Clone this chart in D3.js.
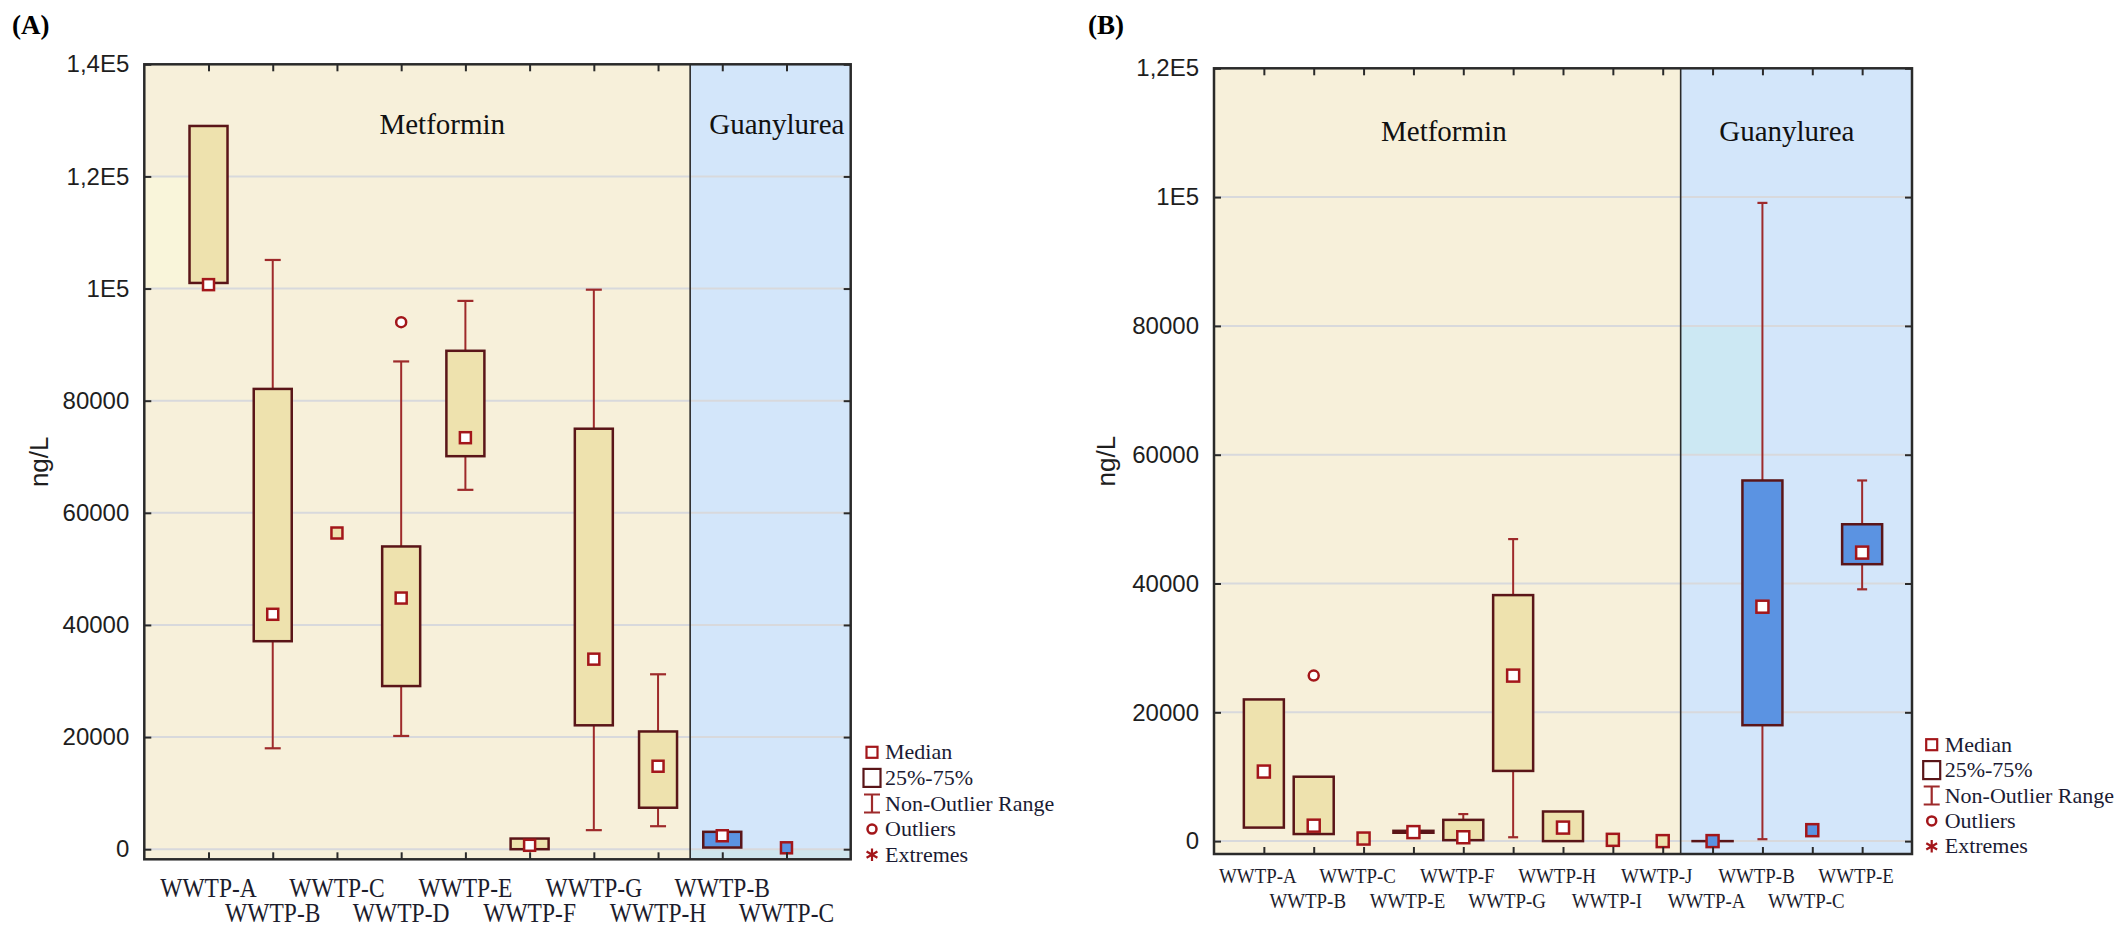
<!DOCTYPE html>
<html>
<head>
<meta charset="utf-8">
<script src="https://cdn.jsdelivr.net/npm/d3@7"></script>
<style>
  body { margin: 0; background: #ffffff; }
  svg { display: block; }
</style>
</head>
<body>
<svg id="chart" width="2120" height="927"></svg>
<script>
// ---------------- Data ----------------
const compounds = ["Metformin", "Guanylurea"];

// Panel (A): 8 plants for metformin, 2 for guanylurea (ng/L)
const sitesA   = ["WWTP-A","WWTP-B","WWTP-C","WWTP-D","WWTP-E","WWTP-F","WWTP-G","WWTP-H","WWTP-B","WWTP-C"];
const compoundA = [0,0,0,0,0,0,0,0,1,1];
const lowA  = [null, 18000, null, 20200, 64100, null, 3400, 4100, null, null];
const q1A   = [101000, 37100, null, 29100, 70100, 0, 22100, 7400, 300, null];
const medA  = [100700, 41900, 56400, 44800, 73400, 700, 33900, 14800, 2400, 250];
const q3A   = [129000, 82100, null, 54000, 88900, 1900, 75000, 21000, 3100, null];
const highA = [null, 105100, null, 87000, 97800, null, 99800, 31200, null, null];
const outA  = [[], [], [], [94000], [], [], [], [], [], []];
const tickValsA  = [0, 20000, 40000, 60000, 80000, 100000, 120000, 140000];
const tickTextA  = ["0", "20000", "40000", "60000", "80000", "1E5", "1,2E5", "1,4E5"];

// Panel (B): 9 plants for metformin, 4 for guanylurea (ng/L)
const sitesB   = ["WWTP-A","WWTP-B","WWTP-C","WWTP-E","WWTP-F","WWTP-G","WWTP-H","WWTP-I","WWTP-J","WWTP-A","WWTP-B","WWTP-C","WWTP-E"];
const compoundB = [0,0,0,0,0,0,0,0,0,1,1,1,1];
const lowB  = [null, null, null, null, 0, 600, null, null, null, null, 300, null, 39100];
const q1B   = [2100, 1100, null, 1300, 150, 10900, 0, null, null, 0, 18000, null, 43000];
const medB  = [10800, 2400, 400, 1400, 600, 25700, 2100, 200, 0, 0, 36400, 1700, 44800];
const q3B   = [22000, 10000, null, 1600, 3300, 38200, 4600, null, null, 0, 56000, null, 49200];
const highB = [null, null, null, null, 4200, 46900, null, null, null, null, 99100, null, 56000];
const outB  = [[], [25700], [], [], [], [], [], [], [], [], [], [], []];
const tickValsB  = [0, 20000, 40000, 60000, 80000, 100000, 120000];
const tickTextB  = ["0", "20000", "40000", "60000", "80000", "1E5", "1,2E5"];

const legendItems = ["Median", "25%-75%", "Non-Outlier Range", "Outliers", "Extremes"];

// ---------------- Styles ----------------
const BG_MET = "#F7F0DA", BG_GUA = "#D3E6FA";
const BOX_FILL = ["#EEE2AE", "#5B93E2"];
const BOX_STROKE = "#5A1518";
const WHISKER = "#9E2A2B";
const MARK = "#A3161A";
const FRAME = "#2a2a2a";
const GRID = "#D8D9DC";
const SANS = "'Liberation Sans', Arial, sans-serif";
const SERIF = "'Liberation Serif', 'Times New Roman', serif";

const svg = d3.select("#chart");

function drawPanel(p) {
  const n = p.sites.length;
  const x = d3.scaleLinear().domain([0, n + 1]).range([p.left, p.right]);
  const y = d3.scaleLinear().domain([p.yMin, p.yMax]).range([p.bottom, p.top]);
  const nMet = p.compound.filter(c => c === 0).length;
  const splitX = x(nMet + p.splitFrac);
  const g = svg.append("g");

  // section backgrounds
  g.append("rect").attr("x", p.left).attr("y", p.top)
    .attr("width", splitX - p.left).attr("height", p.bottom - p.top).attr("fill", BG_MET);
  g.append("rect").attr("x", splitX).attr("y", p.top)
    .attr("width", p.right - splitX).attr("height", p.bottom - p.top).attr("fill", BG_GUA);

  // faint shading bands of the fill
  (p.shades || []).forEach(s => {
    const x0 = s.x0 === "split" ? splitX : x(s.x0);
    const x1 = s.x1 === "split" ? splitX : (s.x1 === "right" ? p.right : x(s.x1));
    const y0 = s.y0 === "bottom" ? p.bottom : y(s.y0);
    const y1 = y(s.y1);
    g.append("rect").attr("x", x0).attr("y", y1)
      .attr("width", x1 - x0).attr("height", y0 - y1).attr("fill", s.color);
  });

  // horizontal grid
  g.append("g").selectAll("line").data(p.tickVals.filter(v => v < p.yMax)).join("line")
    .attr("x1", p.left).attr("x2", p.right)
    .attr("y1", d => y(d)).attr("y2", d => y(d))
    .attr("stroke", GRID).attr("stroke-width", 2);

  // section divider
  g.append("line").attr("x1", splitX).attr("x2", splitX)
    .attr("y1", p.top).attr("y2", p.bottom)
    .attr("stroke", FRAME).attr("stroke-width", 1.6);

  // section titles
  compounds.forEach((c, i) => {
    g.append("text").attr("x", x(p.titlePos[i])).attr("y", p.titleY)
      .attr("text-anchor", "middle").attr("font-family", SERIF)
      .attr("font-size", 29).attr("fill", "#111").text(c);
  });

  // boxes
  const items = p.sites.map((s, i) => ({
    i, c: p.compound[i], low: p.low[i], q1: p.q1[i], med: p.med[i],
    q3: p.q3[i], high: p.high[i], out: p.out[i]
  }));
  const bg = g.append("g");
  items.forEach(d => {
    const cx = x(d.i + 1);
    const hw = p.boxW / 2;
    // whiskers
    const whisk = (from, to) => {
      bg.append("line").attr("x1", cx).attr("x2", cx)
        .attr("y1", y(from)).attr("y2", y(to))
        .attr("stroke", WHISKER).attr("stroke-width", 2);
      bg.append("line").attr("x1", cx - p.capW / 2).attr("x2", cx + p.capW / 2)
        .attr("y1", y(to)).attr("y2", y(to))
        .attr("stroke", WHISKER).attr("stroke-width", 2.2);
    };
    if (d.high !== null) whisk(d.q3, d.high);
    if (d.low !== null) whisk(d.q1, d.low);
    // box
    if (d.q1 !== null && d.q3 !== null) {
      bg.append("rect").attr("x", cx - hw).attr("y", y(d.q3))
        .attr("width", p.boxW).attr("height", Math.max(y(d.q1) - y(d.q3), 0.01))
        .attr("fill", BOX_FILL[d.c]).attr("stroke", BOX_STROKE).attr("stroke-width", 2.5);
    }
    // outliers
    d.out.forEach(v => {
      bg.append("circle").attr("cx", cx).attr("cy", y(v)).attr("r", 5)
        .attr("fill", "#ffffff").attr("stroke", MARK).attr("stroke-width", 2.5);
    });
    // median marker
    const hasBox = d.q1 !== null && d.q3 !== null && d.q3 > d.q1;
    bg.append("rect").attr("x", cx - p.medSize / 2).attr("y", y(d.med) - p.medSize / 2)
      .attr("width", p.medSize).attr("height", p.medSize)
      .attr("fill", hasBox ? "#ffffff" : BOX_FILL[d.c])
      .attr("stroke", MARK).attr("stroke-width", 2.5);
  });

  // frame
  g.append("rect").attr("x", p.left).attr("y", p.top)
    .attr("width", p.right - p.left).attr("height", p.bottom - p.top)
    .attr("fill", "none").attr("stroke", FRAME).attr("stroke-width", 2.5);

  // y axis (ticks inside, labels outside)
  const yAxis = g.append("g").attr("transform", `translate(${p.left},0)`)
    .call(d3.axisLeft(y).tickValues(p.tickVals)
      .tickFormat((d, i) => p.tickText[i]).tickSize(-7).tickPadding(15));
  yAxis.select(".domain").remove();
  yAxis.selectAll("line").attr("stroke", FRAME).attr("stroke-width", 2);
  yAxis.selectAll("text").attr("font-family", SANS).attr("font-size", 24).attr("fill", "#1e1e1e");

  const yAxisR = g.append("g").attr("transform", `translate(${p.right},0)`)
    .call(d3.axisRight(y).tickValues(p.tickVals).tickFormat("").tickSize(-7));
  yAxisR.select(".domain").remove();
  yAxisR.selectAll("line").attr("stroke", FRAME).attr("stroke-width", 2);

  // x axes (ticks inside)
  const cats = d3.range(1, n + 1);
  const xAxis = g.append("g").attr("transform", `translate(0,${p.bottom})`)
    .call(d3.axisBottom(x).tickValues(cats).tickFormat("").tickSize(-7));
  xAxis.select(".domain").remove();
  xAxis.selectAll("line").attr("stroke", FRAME).attr("stroke-width", 2);
  const xAxisT = g.append("g").attr("transform", `translate(0,${p.top})`)
    .call(d3.axisTop(x).tickValues(cats).tickFormat("").tickSize(-7));
  xAxisT.select(".domain").remove();
  xAxisT.selectAll("line").attr("stroke", FRAME).attr("stroke-width", 2);

  // category labels in two staggered rows
  g.append("g").selectAll("text").data(p.sites).join("text")
    .attr("transform", (d, i) =>
      `translate(${x(i + 1) + p.catShift},${i % 2 === 0 ? p.catRow1 : p.catRow2}) scale(${p.catScale},1)`)
    .attr("text-anchor", "middle").attr("font-family", SERIF)
    .attr("font-size", p.catFont).attr("fill", "#1c1c2c").text(d => d);

  // y axis title
  g.append("text")
    .attr("transform", `translate(${p.ylabelX},${(p.top + p.bottom) / 2}) rotate(-90)`)
    .attr("text-anchor", "middle").attr("dy", "0.35em")
    .attr("font-family", SANS).attr("font-size", 26).attr("fill", "#1e1e1e").text("ng/L");

  // panel letter
  g.append("text").attr("x", p.letterX).attr("y", p.letterY)
    .attr("font-family", SERIF).attr("font-weight", "bold").attr("font-size", 27)
    .attr("fill", "#000").text(p.letter);

  // legend
  const lg = g.append("g");
  legendItems.forEach((t, i) => {
    const by = p.legendY + i * p.legendStep;
    const cy = by - 7;
    const mx = p.legendX;
    if (i === 0) {
      lg.append("rect").attr("x", mx - 5.5).attr("y", cy - 5.5).attr("width", 11).attr("height", 11)
        .attr("fill", "#fff").attr("stroke", MARK).attr("stroke-width", 2.2);
    } else if (i === 1) {
      lg.append("rect").attr("x", mx - 8.5).attr("y", cy - 9).attr("width", 17).attr("height", 18)
        .attr("fill", "#fff").attr("stroke", BOX_STROKE).attr("stroke-width", 2.2);
    } else if (i === 2) {
      lg.append("path").attr("d", `M${mx - 8},${cy - 9}H${mx + 8}M${mx},${cy - 9}V${cy + 9}M${mx - 8},${cy + 9}H${mx + 8}`)
        .attr("fill", "none").attr("stroke", WHISKER).attr("stroke-width", 2.2);
    } else if (i === 3) {
      lg.append("circle").attr("cx", mx).attr("cy", cy).attr("r", 4.5)
        .attr("fill", "#fff").attr("stroke", MARK).attr("stroke-width", 2.5);
    } else {
      lg.append("path").attr("transform", `translate(${mx},${cy})`)
        .attr("d", d3.symbol(d3.symbolAsterisk, 110)())
        .attr("fill", "none").attr("stroke", MARK).attr("stroke-width", 2.2);
    }
    lg.append("text").attr("x", mx + 13).attr("y", by)
      .attr("font-family", SERIF).attr("font-size", 22).attr("fill", "#1b1b33").text(t);
  });
}

drawPanel({
  sites: sitesA, compound: compoundA, low: lowA, q1: q1A, med: medA, q3: q3A, high: highA, out: outA,
  tickVals: tickValsA, tickText: tickTextA,
  left: 144.3, right: 850.7, top: 64.3, bottom: 859.3, yMin: -1800, yMax: 140000,
  splitFrac: 0.5, boxW: 38, capW: 16, medSize: 11,
  catFont: 28, catScale: 0.84, catRow1: 896.7, catRow2: 921.7, catShift: 0,
  titlePos: [4.64, 9.85], titleY: 134,
  legendX: 872, legendY: 759.3, legendStep: 25.6,
  ylabelX: 39, letter: "(A)", letterX: 12, letterY: 34,
  shades: [
    { x0: 0, x1: 0.7, y0: 100000, y1: 120000, color: "#F9F5DA" },
    { x0: "split", x1: "right", y0: "bottom", y1: 0, color: "#CFE6EE" }
  ]
});

drawPanel({
  sites: sitesB, compound: compoundB, low: lowB, q1: q1B, med: medB, q3: q3B, high: highB, out: outB,
  tickVals: tickValsB, tickText: tickTextB,
  left: 1214, right: 1912, top: 68.3, bottom: 854, yMin: -2000, yMax: 120000,
  splitFrac: 0.36, boxW: 40, capW: 10, medSize: 12,
  catFont: 21, catScale: 0.9, catRow1: 883.3, catRow2: 908.3, catShift: -6,
  titlePos: [4.61, 11.49], titleY: 141,
  legendX: 1931.7, legendY: 751.7, legendStep: 25.4,
  ylabelX: 1106, letter: "(B)", letterX: 1088, letterY: 34,
  shades: [
    { x0: "split", x1: 11, y0: 60000, y1: 80000, color: "#CCE8F3" }
  ]
});
</script>
</body>
</html>
